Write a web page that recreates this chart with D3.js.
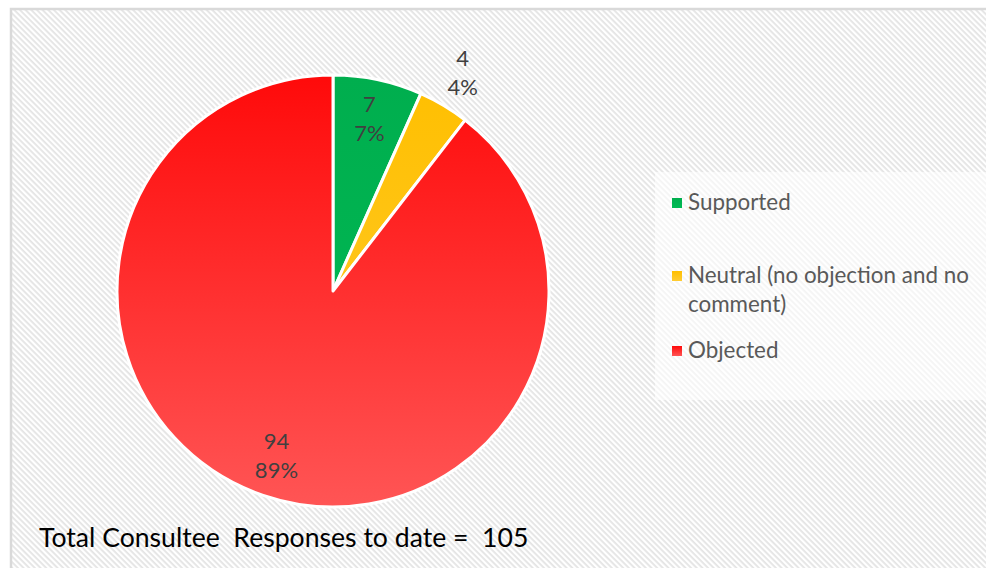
<!DOCTYPE html>
<html>
<head>
<meta charset="utf-8">
<script src="https://cdn.jsdelivr.net/npm/d3@7"></script>
<style>
  body { margin: 0; background: #fff; }
  svg { display: block; }
</style>
</head>
<body>
<svg class="chart"></svg>
<script>
const size = {w: 986, h: 568};

// chart data
const categories = ['Supported', 'Neutral (no objection and no comment)', 'Objected'];
const counts = [7, 4, 94];
const percentLabels = ['7%', '4%', '89%'];
const totalLabel = 'Total Consultee  Responses to date =  105';

// colours: top and bottom of each slice gradient
const colorsTop = ['#00ae4e', '#ffbf00', '#ff0a0a'];
const colorsBottom = ['#00bb55', '#ffcc33', '#ff5555'];

const svg = d3.select('svg.chart')
    .attr('width', size.w)
    .attr('height', size.h);

const defs = svg.append('defs');

// diagonal hatch for the chart area
const hatch = defs.append('pattern')
    .attr('id', 'hatch')
    .attr('patternUnits', 'userSpaceOnUse')
    .attr('width', 4)
    .attr('height', 4)
    .attr('patternTransform', 'rotate(45)');
hatch.append('rect').attr('width', 4).attr('height', 4).attr('fill', '#ffffff');
hatch.append('rect').attr('width', 4).attr('height', 1.8).attr('fill', '#e4e4e4');

// chart area with grey frame
svg.append('rect')
    .attr('x', 11).attr('y', 9)
    .attr('width', size.w).attr('height', size.h)
    .attr('fill', 'url(#hatch)')
    .attr('stroke', '#d9d9d9')
    .attr('stroke-width', 2.5);

const center = {x: 333, y: 291};
const radius = 216;

// gradient per slice (pie's local coords), and one per legend key
categories.forEach(function(c, i) {
    const g = defs.append('linearGradient')
        .attr('id', 'grad' + i)
        .attr('gradientUnits', 'userSpaceOnUse')
        .attr('x1', 0).attr('x2', 0)
        .attr('y1', -radius).attr('y2', radius);
    g.append('stop').attr('offset', '0%').attr('stop-color', colorsTop[i]);
    g.append('stop').attr('offset', '100%').attr('stop-color', colorsBottom[i]);

    const k = defs.append('linearGradient')
        .attr('id', 'key' + i)
        .attr('x1', 0).attr('x2', 0)
        .attr('y1', 0).attr('y2', 1);
    k.append('stop').attr('offset', '0%').attr('stop-color', colorsTop[i]);
    k.append('stop').attr('offset', '100%').attr('stop-color', colorsBottom[i]);
});

const pie = d3.pie().sort(null).value(d => d.count);
const pieData = pie(categories.map((c, i) => ({name: c, count: counts[i], pct: percentLabels[i], i: i})));

const arc = d3.arc().innerRadius(0).outerRadius(radius);

const pieG = svg.append('g')
    .attr('transform', `translate(${center.x},${center.y})`);

pieG.selectAll('path')
    .data(pieData)
    .join('path')
    .attr('d', arc)
    .attr('fill', d => `url(#grad${d.data.i})`)
    .attr('stroke', '#ffffff')
    .attr('stroke-width', 3)
    .attr('stroke-linejoin', 'round');

// data labels: small slices sit outside, others inside
const insideArc = d3.arc().innerRadius(radius * 0.81).outerRadius(radius * 0.81);
const outsideArc = d3.arc().innerRadius(radius * 1.17).outerRadius(radius * 1.17);

const labelFont = "'Lato', 'Open Sans', sans-serif";

const labels = pieG.selectAll('text.label')
    .data(pieData)
    .join('text')
    .attr('class', 'label')
    .attr('text-anchor', 'middle')
    .attr('font-family', labelFont)
    .attr('font-size', 22)
    .attr('fill', '#404040')
    .attr('transform', function(d) {
        const a = (d.endAngle - d.startAngle) < 0.3 ? outsideArc : insideArc;
        const p = a.centroid(d);
        return `translate(${p[0]},${p[1]})`;
    });
labels.append('tspan').attr('x', 0).attr('dy', -8).text(d => d.data.count);
labels.append('tspan').attr('x', 0).attr('dy', 29).text(d => d.data.pct);

// legend
const legendG = svg.append('g');
legendG.append('rect')
    .attr('x', 655).attr('y', 172)
    .attr('width', 331).attr('height', 228)
    .attr('fill', '#ffffff')
    .attr('fill-opacity', 0.6);

const legendRows = [
    {lines: [categories[0]], y: 210},
    {lines: ['Neutral (no objection and no', 'comment)'], y: 283},
    {lines: [categories[2]], y: 358}
];

legendRows.forEach(function(row, i) {
    legendG.append('rect')
        .attr('x', 672).attr('y', row.y - 12)
        .attr('width', 10).attr('height', 10)
        .attr('fill', `url(#key${i})`);
    const t = legendG.append('text')
        .attr('font-family', labelFont)
        .attr('font-size', 22.4)
        .attr('fill', '#595959')
        .attr('y', row.y);
    row.lines.forEach(function(line, j) {
        t.append('tspan')
            .attr('x', 688)
            .attr('dy', j === 0 ? 0 : 29)
            .text(line);
    });
});

// footer text
svg.append('text')
    .attr('x', 39).attr('y', 547)
    .attr('font-family', labelFont)
    .attr('font-size', 26.6)
    .attr('fill', '#000000')
    .style('white-space', 'pre')
    .text(totalLabel);
</script>
</body>
</html>
